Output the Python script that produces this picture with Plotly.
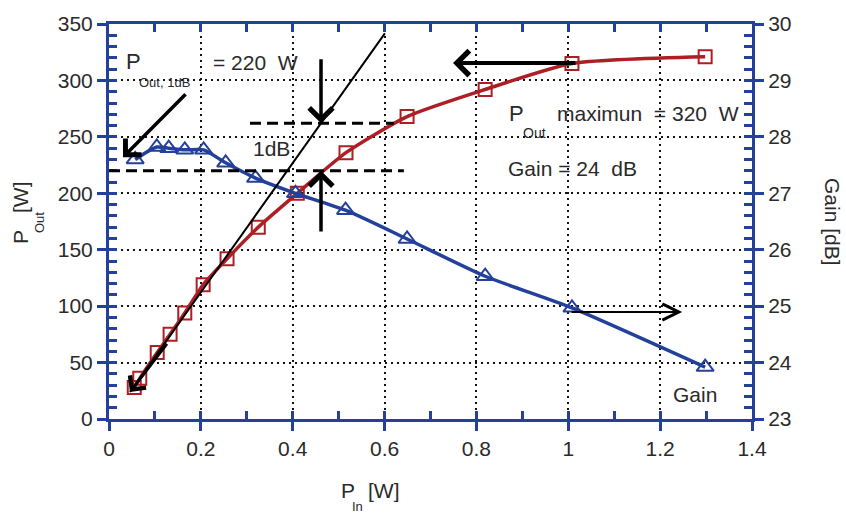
import plotly.graph_objects as go

# ---- data ----
pin_pout = [0.055, 0.067, 0.105, 0.133, 0.165, 0.205, 0.257, 0.325, 0.41, 0.516, 0.649, 0.819, 1.008, 1.298]
pout = [28, 36, 59, 75, 94, 119, 142, 170, 200, 236, 268, 292, 315, 321]

pin_gain = [0.057, 0.104, 0.13, 0.165, 0.206, 0.254, 0.319, 0.406, 0.515, 0.649, 0.819, 1.008, 1.298]
gain = [27.60, 27.82, 27.80, 27.77, 27.77, 27.54, 27.27, 27.00, 26.70, 26.19, 25.53, 24.97, 23.92]

x_ticks = [0, 0.2, 0.4, 0.6, 0.8, 1, 1.2, 1.4]
x_ticklabels = ["0", "0.2", "0.4", "0.6", "0.8", "1", "1.2", "1.4"]

p1db = 220
p_lin_1db = 262
x_1db = 0.4616

RED = "#ad1f25"
BLUE = "#23409a"
FONT = "Liberation Sans, Arial, Helvetica, sans-serif"
TXT = "#2a2a2a"

fig = go.Figure()

fig.add_trace(go.Scatter(
    x=pin_pout, y=pout, mode="lines+markers",
    line=dict(color=RED, width=3.5, shape="spline", smoothing=0.6),
    marker=dict(symbol="square-open", size=13, color=RED, line=dict(width=2, color=RED)),
    xaxis="x", yaxis="y", showlegend=False, cliponaxis=False))

fig.add_trace(go.Scatter(
    x=pin_gain, y=gain, mode="lines+markers",
    line=dict(color=BLUE, width=3.5, shape="spline", smoothing=0.6),
    marker=dict(symbol="triangle-up-open", size=15, color=BLUE, line=dict(width=2, color=BLUE)),
    xaxis="x", yaxis="y2", showlegend=False, cliponaxis=False))

axis_common = dict(linecolor=BLUE, linewidth=3, tickcolor=BLUE, tickwidth=3,
                   tickfont=dict(family=FONT, size=21, color=TXT), zeroline=False)
tick_only = {k: v for k, v in axis_common.items() if k not in ("linecolor", "linewidth")}

fig.update_layout(
    width=846, height=513,
    margin=dict(l=109, r=94, t=24, b=94),
    paper_bgcolor="white", plot_bgcolor="white",
    font=dict(family=FONT, color=TXT),
    xaxis=dict(range=[0, 1.4], tickvals=x_ticks, ticktext=x_ticklabels, ticks="outside", ticklen=9,
               showgrid=True, gridcolor="#111", gridwidth=2, griddash="2px,4px", showline=True,
               mirror=False, anchor="y", **axis_common),
    xaxis2=dict(range=[0, 1.4], overlaying="x", side="bottom", anchor="y", dtick=0.1, tick0=0,
                ticks="inside", ticklen=8, showticklabels=False, showgrid=False, showline=False,
                **tick_only),
    xaxis3=dict(range=[0, 1.4], overlaying="x", side="top", anchor="y", dtick=0.1, tick0=0,
                ticks="inside", ticklen=8, showticklabels=False, showgrid=False, showline=True,
                **axis_common),
    yaxis=dict(range=[0, 350], dtick=50, ticks="outside", ticklen=9, showgrid=True,
               gridcolor="#111", gridwidth=2, griddash="2px,4px", showline=True, anchor="x",
               **axis_common),
    yaxis3=dict(range=[0, 350], overlaying="y", side="left", anchor="x", dtick=10, tick0=0,
                ticks="inside", ticklen=8, showticklabels=False, showgrid=False, showline=False,
                **tick_only),
    yaxis2=dict(range=[23, 30], overlaying="y", side="right", anchor="x", dtick=1, ticks="outside",
                ticklen=9, showgrid=False, showline=True, **axis_common),
    yaxis4=dict(range=[23, 30], overlaying="y", side="right", anchor="x", dtick=0.2, tick0=23,
                ticks="inside", ticklen=8, showticklabels=False, showgrid=False, showline=False,
                **tick_only),
)

# dummy traces so overlay axes are drawn
fig.add_trace(go.Scatter(x=[None], y=[None], xaxis="x2", yaxis="y3", showlegend=False, hoverinfo="skip"))
fig.add_trace(go.Scatter(x=[None], y=[None], xaxis="x3", yaxis="y4", showlegend=False, hoverinfo="skip"))

# dashed reference lines
fig.add_shape(type="line", xref="x", yref="y", x0=0, x1=0.642, y0=p1db, y1=p1db,
              line=dict(color="black", width=3, dash="11px,6px"))
fig.add_shape(type="line", xref="x", yref="y", x0=0.307, x1=0.62, y0=p_lin_1db, y1=p_lin_1db,
              line=dict(color="black", width=3, dash="11px,6px"))


def arrow(x, y, ax, ay, width=3, head=4, size=1.0, yref="y"):
    fig.add_annotation(x=x, y=y, ax=ax, ay=ay, xref="x", yref=yref, axref="x", ayref=yref,
                       showarrow=True, arrowhead=head, arrowwidth=width, arrowsize=size,
                       arrowcolor="black", text="")


# linear extrapolation line with arrow head at the lower end
arrow(0.0457, 23.9, 0.603, 343, width=2, head=0)
arrow(0.0457, 23.9, 0.1285, 68, width=3, head=4, size=1.3)
# P_Out,1dB arrow
arrow(0.0305, 232, 0.170, 289, width=3.5, head=4, size=1.25)
# vertical 1 dB arrows
arrow(x_1db, p_lin_1db, x_1db, 320, width=3.5, head=4, size=1.3)
arrow(x_1db, p1db, x_1db, 164.8, width=3.5, head=4, size=1.3)
# Pout max arrow (towards left axis)
arrow(0.749, 315.4, 1.019, 315.4, width=4, head=4, size=1.2)
# gain arrow (towards right axis)
arrow(1.248, 94.8, 1.004, 94.8, width=2, head=5, size=1.6)


def text(x, y, s, size=21, xanchor="left", xref="x", yref="y", angle=0):
    fig.add_annotation(x=x, y=y, xref=xref, yref=yref, text=s, showarrow=False,
                       xanchor=xanchor, yanchor="middle", textangle=angle,
                       font=dict(family=FONT, size=size, color=TXT))


text(0.033, 317.2, "P", size=22)
text(0.061, 298.6, "Out, 1dB", size=13)
text(0.222, 316.3, "= 220  W", size=21)
text(0.309, 240.1, "1dB", size=21)
text(0.867, 271.1, "P", size=22)
text(0.897, 253.4, "Out", size=14)
text(0.972, 271.1, "maximun  = 320  W", size=21)
text(0.864, 222.4, "Gain = 24  dB", size=21)
text(1.224, 21.3, "Gain", size=21)


# axis titles (paper coordinates from pixel positions)
def px(xp):
    return (xp - 109) / 643.0


def py(yp):
    return (419 - yp) / 395.0


text(px(20), py(237), "P", size=21, xanchor="center", xref="paper", yref="paper", angle=-90)
text(px(39), py(223), "Out", size=13, xanchor="center", xref="paper", yref="paper", angle=-90)
text(px(20), py(197), "[W]", size=21, xanchor="center", xref="paper", yref="paper", angle=-90)
text(px(833), py(222), "Gain [dB]", size=21, xanchor="center", xref="paper", yref="paper", angle=90)
text(px(348), py(490), "P", size=21, xanchor="center", xref="paper", yref="paper")
text(px(357), py(506), "In", size=13, xanchor="center", xref="paper", yref="paper")
text(px(384), py(490), "[W]", size=21, xanchor="center", xref="paper", yref="paper")

fig.write_html("out.html", config={"displayModeBar": False},
               post_script="document.body.style.margin='0';document.body.style.overflow='hidden';")
